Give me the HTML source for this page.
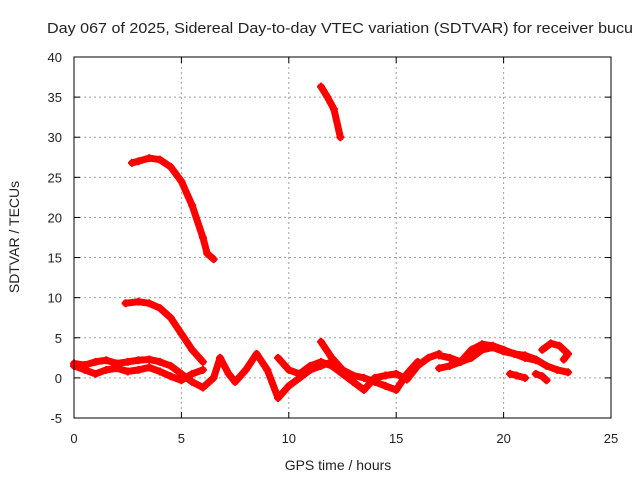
<!DOCTYPE html>
<html><head><meta charset="utf-8"><style>
body{margin:0;background:#fff;}
svg text{font-family:"Liberation Sans",sans-serif;font-size:13px;fill:#222;}
</style></head><body>
<svg id="chart" width="640" height="480">
<text x="47" y="33" textLength="586" lengthAdjust="spacingAndGlyphs" style="font-size:15px">Day 067 of 2025, Sidereal Day-to-day VTEC variation (SDTVAR) for receiver bucu</text>
<text x="338" y="470" text-anchor="middle" style="font-size:14px">GPS time / hours</text>
<text transform="translate(19,237) rotate(-90)" text-anchor="middle" style="font-size:14px">SDTVAR / TECUs</text>
<g id="grid"></g><g id="ticks"></g><g id="series"></g>
<rect x="74" y="57" width="537" height="361" fill="none" stroke="#000"/>
</svg>
<script>
const xTicks=[0,5,10,15,20,25];
const yTicks=[-5,0,5,10,15,20,25,30,35,40];
const trackA=[[2.7,26.8],[3.0,27.0],[3.5,27.4],[4.0,27.2],[4.5,26.3],[5.0,24.5],[5.5,21.5],[6.0,17.5],[6.2,15.5],[6.5,14.8]];
const trackB=[[11.5,36.3],[11.8,35],[12.1,33.5],[12.4,30]];
const trackC=[[2.4,9.3],[3,9.5],[3.5,9.3],[4,8.7],[4.5,7.5],[5,5.5],[5.5,3.5],[6,2.0]];
const trackD=[[0,1.8],[0.5,1.6],[1,2],[1.5,2.2],[2,1.8],[2.5,2.0],[3,2.2],[3.5,2.3],[4,2],[4.5,1.5],[5,0.5],[5.5,-0.5],[6,-1.2],[6.5,0],[6.8,2.5]];
const trackE=[[0,1.5],[0.5,1],[1,0.5],[1.5,1],[2,1.2],[2.5,0.8],[3,1],[3.5,1.3],[4,0.8],[4.5,0.2],[5,-0.3],[5.5,0.5],[6,1]];
const trackF=[[6.8,2.5],[7.2,0.5],[7.5,-0.5],[8,1],[8.5,3],[9,1],[9.5,-2.5],[10,-1],[10.5,0],[11,1],[11.5,1.5],[12,2]];
const trackG=[[9.5,2.5],[10,1],[10.5,0.5],[11,1.5],[11.5,2],[12,1.5],[12.5,0.5],[13,-0.5],[13.5,-1.5],[14,0],[14.5,0.3],[15,0.5],[15.5,-0.2],[16,1.5],[16.5,2.5],[17,3]];
const trackH=[[11.5,4.5],[12,2.5],[12.5,1.0],[13,0.3],[13.5,0],[14,-0.5],[14.5,-1],[15,-1.5],[15.5,0.5],[16,2]];
const trackI=[[17,1.2],[17.5,1.5],[18,2],[18.5,2.5],[19,3.5],[19.5,3.8],[20,3.3],[20.5,3],[21,2.5],[21.5,2.2]];
const trackJ=[[17,2.8],[17.5,2.5],[18,2],[18.5,3.5],[19,4.2],[19.5,4],[20,3.5],[20.5,3],[21,2.8],[21.5,2.3],[22,1.5],[22.5,1],[23,0.7]];
const trackK=[[20.3,0.5],[20.6,0.3],[21,0]];
const trackL=[[21.5,0.5],[21.8,0.2],[22,-0.3]];
const trackM=[[21.8,3.5],[22.2,4.3],[22.6,4],[23,3],[22.8,2.3]];
const tracks=[trackA,trackB,trackC,trackD,trackE,trackF,trackG,trackH,trackI,trackJ,trackK,trackL,trackM];
const NS='http://www.w3.org/2000/svg';
const X0=74,X1=611,Y0=418,Y1=57;
const sx=v=>X0+(v-0)/(25-0)*(X1-X0);
const sy=v=>Y0-(v+5)/(45)*(Y0-Y1);
function mk(tag,attrs,parent){const e=document.createElementNS(NS,tag);for(const k in attrs)e.setAttribute(k,attrs[k]);parent.appendChild(e);return e;}
const grid=document.getElementById('grid'),ticks=document.getElementById('ticks'),ser=document.getElementById('series');
xTicks.forEach(t=>{const x=sx(t);
 if(t>0&&t<25){const g=mk('line',{x1:x,x2:x,y1:Y1,y2:Y0,stroke:'#a0a0a0','stroke-dasharray':'2,3'},grid);}
 mk('line',{x1:x,x2:x,y1:Y0,y2:Y0-6,stroke:'#000'},ticks);mk('line',{x1:x,x2:x,y1:Y1,y2:Y1+6,stroke:'#000'},ticks);
 const l=mk('text',{x:x,y:443,'text-anchor':'middle'},ticks);l.textContent=t;
 
 });
yTicks.forEach(t=>{const y=sy(t);
 if(t>-5&&t<40){const g=mk('line',{x1:X0,x2:X1,y1:y,y2:y,stroke:'#a0a0a0','stroke-dasharray':'2,3'},grid);}
 mk('line',{x1:X0,x2:X0+6,y1:y,y2:y,stroke:'#000'},ticks);mk('line',{x1:X1,x2:X1-6,y1:y,y2:y,stroke:'#000'},ticks);
 const l=mk('text',{x:62,y:y+5,'text-anchor':'end'},ticks);l.textContent=t;
 
 });
tracks.forEach(tr=>{
 const p=mk('polyline',{points:tr.map(d=>sx(d[0])+','+sy(d[1])).join(' '),fill:'none',stroke:'#f00','stroke-width':7,'stroke-linejoin':'round','stroke-linecap':'round'},ser);
 
 
 tr.forEach(d=>{const x=sx(d[0]),y=sy(d[1]);
  const m=mk('path',{d:`M${x-4},${y}H${x+4}M${x},${y-4}V${y+4}`,stroke:'#f00','stroke-width':2},ser);
  
  });
});
</script>
</body></html>
